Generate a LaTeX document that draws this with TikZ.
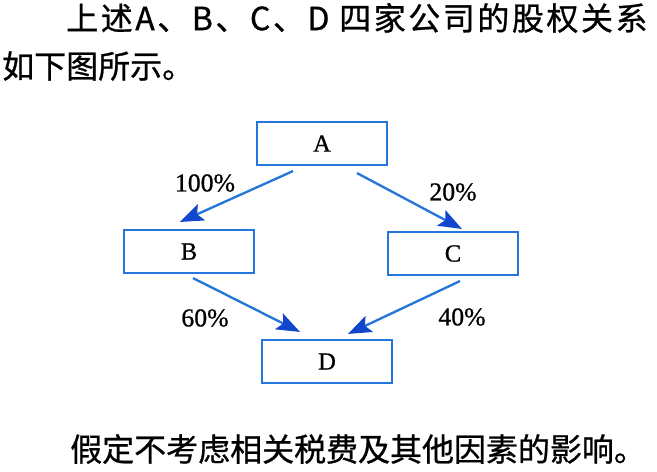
\documentclass[tikz,border=0pt]{standalone}
\usepackage{fontspec}
\setmainfont[FakeBold=0.8]{Liberation Serif}
\newfontfamily\cjk[FakeBold=0.8]{Noto Sans CJK SC}
\newfontfamily\cjkwide[LetterSpace=8, FakeBold=0.8]{Noto Sans CJK SC}
\usetikzlibrary{positioning,arrows.meta}
\definecolor{linkblue}{RGB}{36,118,218}
\definecolor{tipblue}{RGB}{18,70,205}

\begin{document}
\begin{tikzpicture}[
    firm/.style={draw=linkblue, line width=1.8pt, minimum width=3.9cm, minimum height=1.29cm, font=\fontsize{21}{21}\selectfont},
    stake/.style={draw=linkblue, line width=2pt, -{Stealth[length=20pt, width=15pt, inset=4pt, color=tipblue]}},
    share/.style={inner sep=0pt, font=\fontsize{22}{22}\selectfont},
    para/.style={anchor=west, inner sep=0pt, font=\fontsize{27.3}{27.3}\cjk}]
    \useasboundingbox (0,0) rectangle (19.71,-14.13);
    \node [para, font=\fontsize{27.3}{27.3}\cjkwide] (intro) at (1.98,-0.54) {上述A、B、C、D 四家公司的股权关系};
    \node [para] (intro2) at (0.06,-1.98) {如下图所示。};
    \node [firm] (a) at (9.66,-4.305) {A};
    \node [firm, on grid, below left = 3.24cm and 3.99cm of a] (b) {B};
    \node [firm, on grid, below right = 3.3cm and 3.93cm of a] (c) {C};
    \node [firm, on grid, below = 6.54cm of a, xshift=0.15cm] (d) {D};
    \draw [stake] ([xshift=-0.87cm, yshift=-0.15cm]a.south) -- ([xshift=-0.27cm, yshift=0.21cm]b.north);
    \draw [stake] ([xshift=1.05cm, yshift=-0.21cm]a.south) -- ([xshift=0.27cm, yshift=0.06cm]c.north);
    \draw [stake] ([xshift=0.12cm, yshift=-0.12cm]b.south) -- ([xshift=-0.81cm, yshift=0.21cm]d.north);
    \draw [stake] ([xshift=0.21cm, yshift=-0.15cm]c.south) -- ([xshift=0.63cm, yshift=0.15cm]d.north);
    \node [share] (ab) at (6.15,-5.49) {100\%};
    \node [share] (ac) at (13.59,-5.76) {20\%};
    \node [share] (bd) at (6.15,-9.54) {60\%};
    \node [share] (cd) at (13.86,-9.51) {40\%};
    \node [para] (note) at (2.1,-13.47) {假定不考虑相关税费及其他因素的影响。};
\end{tikzpicture}
\end{document}
